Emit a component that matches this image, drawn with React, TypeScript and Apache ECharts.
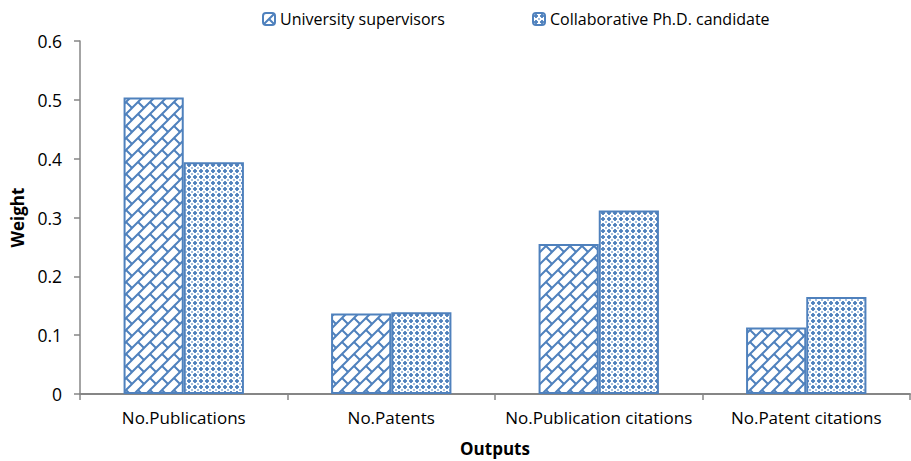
import React, { useEffect, useRef } from "react";
import * as echarts from "echarts";

const categories = ["No.Publications", "No.Patents", "No.Publication citations", "No.Patent citations"];
const seriesNames = ["University supervisors", "Collaborative Ph.D. candidate"];
const supervisors = [0.504, 0.137, 0.255, 0.113];
const candidates = [0.394, 0.139, 0.312, 0.165];
const yTicks = [0, 0.1, 0.2, 0.3, 0.4, 0.5, 0.6];

const BLUE = "#4f81bd";
const FONT = "'Open Sans', 'Noto Sans', sans-serif";

function brickPattern(): HTMLCanvasElement {
  const c = document.createElement("canvas");
  const s = 12;
  c.width = s;
  c.height = s;
  const ctx = c.getContext("2d")!;
  ctx.fillStyle = "#ffffff";
  ctx.fillRect(0, 0, s, s);
  ctx.strokeStyle = BLUE;
  ctx.lineWidth = 2;
  ctx.lineCap = "square";
  ctx.beginPath();
  ctx.moveTo(-2, s + 2);
  ctx.lineTo(s + 2, -2);
  ctx.moveTo(s / 2, s / 2);
  ctx.lineTo(s, s);
  ctx.stroke();
  ctx.beginPath();
  ctx.moveTo(s - 1, s + 1);
  ctx.lineTo(s + 1, s - 1);
  ctx.moveTo(-1, 1);
  ctx.lineTo(1, -1);
  ctx.stroke();
  return c;
}

function dotPattern(): HTMLCanvasElement {
  const c = document.createElement("canvas");
  const s = 6;
  c.width = s;
  c.height = s;
  const ctx = c.getContext("2d")!;
  ctx.fillStyle = "#ffffff";
  ctx.fillRect(0, 0, s, s);
  ctx.fillStyle = BLUE;
  ctx.globalAlpha = 0.9;
  ctx.fillRect(2, 1, 2, 4);
  ctx.fillRect(1, 2, 4, 2);
  ctx.globalAlpha = 0.5;
  ctx.fillRect(0, 0, 1, 1);
  ctx.fillRect(5, 0, 1, 1);
  ctx.fillRect(0, 5, 1, 1);
  ctx.fillRect(5, 5, 1, 1);
  return c;
}

export default function App() {
  const ref = useRef<HTMLDivElement>(null);
  useEffect(() => {
    if (!ref.current) return;
    const chart = echarts.init(ref.current, undefined, { renderer: "svg" });
    const p1 = { image: brickPattern(), repeat: "repeat" } as any;
    const p2 = { image: dotPattern(), repeat: "repeat" } as any;
    const legendBase = {
      top: 6,
      itemWidth: 12,
      itemHeight: 12,
      textStyle: { fontSize: 16, color: "#000", fontFamily: FONT },
    };
    chart.setOption({
      animation: false,
      backgroundColor: "#ffffff",
      textStyle: { fontFamily: FONT },
      legend: [
        { ...legendBase, left: 257, data: [seriesNames[0]] },
        { ...legendBase, left: 527, data: [seriesNames[1]] },
      ],
      grid: { left: 80, right: 1, top: 41, bottom: 67, containLabel: false, outerBoundsMode: "none" },
      xAxis: {
        type: "category",
        data: categories,
        name: "Outputs",
        nameLocation: "middle",
        nameGap: 45,
        nameTextStyle: { fontWeight: "bold", fontSize: 17, color: "#000", fontFamily: FONT, lineHeight: 18 },
        axisLine: { lineStyle: { color: "#868686", width: 2 } },
        axisTick: { show: true, length: 6, lineStyle: { color: "#868686", width: 1.5 } },
        axisLabel: { interval: 0, hideOverlap: false, fontSize: 17, color: "#000", margin: 15, fontFamily: FONT },
      },
      yAxis: {
        type: "value",
        min: 0,
        max: 0.6,
        interval: 0.1,
        name: "Weight",
        nameLocation: "middle",
        nameGap: 54,
        nameRotate: 90,
        nameTextStyle: { fontWeight: "bold", fontSize: 17, color: "#000", fontFamily: FONT },
        axisLine: { show: true, lineStyle: { color: "#868686", width: 1.5 } },
        axisTick: { show: true, length: 6, lineStyle: { color: "#868686", width: 1.5 } },
        splitLine: { show: false },
        axisLabel: {
          fontSize: 17.5,
          color: "#000",
          margin: 18,
          fontFamily: FONT,
          formatter: (v: number) => {
            const t = yTicks.find((x) => Math.abs(x - v) < 1e-9);
            return t === 0 ? "0" : String(t ?? v);
          },
        },
      },
      series: [
        {
          name: seriesNames[0],
          type: "bar",
          data: supervisors,
          barGap: "0%",
          barCategoryGap: "42%",
          itemStyle: { color: p1, borderColor: BLUE, borderWidth: 2 },
        },
        {
          name: seriesNames[1],
          type: "bar",
          data: candidates,
          barGap: "0%",
          barCategoryGap: "42%",
          itemStyle: { color: p2, borderColor: BLUE, borderWidth: 2 },
        },
      ],
    });
    return () => chart.dispose();
  }, []);
  return <div ref={ref} style={{ width: 911, height: 461, position: "absolute", left: 0, top: 0 }} />;
}
